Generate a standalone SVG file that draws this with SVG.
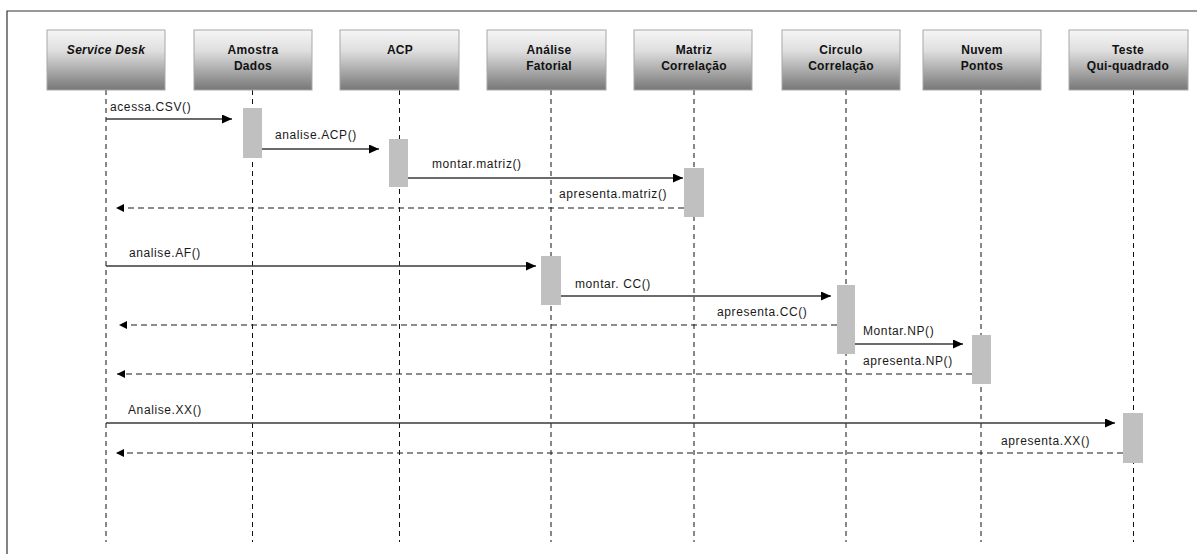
<svg xmlns="http://www.w3.org/2000/svg" width="1197" height="554" viewBox="0 0 1197 554">
<style>
.box{fill:url(#g);stroke:#a8a8a8;stroke-width:1}
.bt{font-family:"Liberation Sans",Arial,sans-serif;font-size:12px;font-weight:bold;fill:#111;text-anchor:middle;letter-spacing:0.3px}
.life{stroke:#111;stroke-width:1;stroke-dasharray:5 4;fill:none}
.bar{fill:#c0c0c0}
.call{stroke:#3a3a3a;stroke-width:1.5;fill:none;marker-end:url(#ah)}
.ret{stroke:#1a1a1a;stroke-width:1.2;stroke-dasharray:6 4;fill:none;marker-end:url(#ahr)}
.lbl{font-family:"Liberation Sans",Arial,sans-serif;font-size:12px;fill:#1a1a1a;letter-spacing:0.6px}
</style>
<defs>
<linearGradient id="g" x1="0" y1="0" x2="0" y2="1">
<stop offset="0" stop-color="#f6f6f6"/>
<stop offset="0.35" stop-color="#dedede"/>
<stop offset="1" stop-color="#777"/>
</linearGradient>
<marker id="ah" markerUnits="userSpaceOnUse" markerWidth="11" markerHeight="10" refX="10" refY="4.5" orient="auto">
<path d="M0,0 L10,4.5 L0,9 z" fill="#000"/>
</marker>
<marker id="ahr" markerUnits="userSpaceOnUse" markerWidth="9" markerHeight="9" refX="8" refY="4" orient="auto">
<path d="M0,0 L8,4 L0,8 z" fill="#000"/>
</marker>
</defs>
<rect width="1197" height="554" fill="#fff"/>
<path d="M7,554 V11 H1197" fill="none" stroke="#333" stroke-width="1.2"/>

<g id="lifelines">
<line class="life" x1="106" y1="90" x2="106" y2="542"/>
<line class="life" x1="252.5" y1="90" x2="252.5" y2="542"/>
<line class="life" x1="399.5" y1="90" x2="399.5" y2="542"/>
<line class="life" x1="551" y1="90" x2="551" y2="542"/>
<line class="life" x1="694" y1="90" x2="694" y2="542"/>
<line class="life" x1="846" y1="90" x2="846" y2="542"/>
<line class="life" x1="981" y1="90" x2="981" y2="542"/>
<line class="life" x1="1133.5" y1="90" x2="1133.5" y2="542"/>
</g>

<g id="n_service_desk">
<rect class="box" x="47" y="30" width="118" height="60"/>
<text class="bt" x="106" y="54" font-style="italic">Service Desk</text>
</g>
<g id="n_amostra">
<rect class="box" x="194" y="30" width="118" height="60"/>
<text class="bt" x="253" y="54">Amostra</text>
<text class="bt" x="253" y="70">Dados</text>
</g>
<g id="n_acp">
<rect class="box" x="340" y="30" width="119" height="60"/>
<text class="bt" x="400" y="54">ACP</text>
</g>
<g id="n_analise">
<rect class="box" x="487" y="30" width="119" height="60"/>
<text class="bt" x="549" y="54">Análise</text>
<text class="bt" x="549" y="70">Fatorial</text>
</g>
<g id="n_matriz">
<rect class="box" x="634" y="30" width="118" height="60"/>
<text class="bt" x="694" y="54">Matriz</text>
<text class="bt" x="694" y="70">Correlação</text>
</g>
<g id="n_circulo">
<rect class="box" x="782" y="30" width="118" height="60"/>
<text class="bt" x="841" y="54">Circulo</text>
<text class="bt" x="841" y="70">Correlação</text>
</g>
<g id="n_nuvem">
<rect class="box" x="923" y="30" width="118" height="60"/>
<text class="bt" x="982" y="54">Nuvem</text>
<text class="bt" x="982" y="70">Pontos</text>
</g>
<g id="n_teste">
<rect class="box" x="1069" y="30" width="119" height="60"/>
<text class="bt" x="1128" y="54">Teste</text>
<text class="bt" x="1128" y="70">Qui-quadrado</text>
</g>

<g id="activations">
<rect class="bar" x="243" y="108" width="19" height="50"/>
<rect class="bar" x="389" y="139" width="19" height="48"/>
<rect class="bar" x="684" y="168" width="20" height="49"/>
<rect class="bar" x="541" y="256" width="20" height="49"/>
<rect class="bar" x="837" y="285" width="18" height="69"/>
<rect class="bar" x="972" y="335" width="19" height="49"/>
<rect class="bar" x="1123" y="413" width="20" height="50"/>
</g>

<g id="connectors">
<line class="call" x1="106" y1="119" x2="232" y2="119"/>
<text class="lbl" x="110" y="111">acessa.CSV()</text>
<line class="call" x1="262" y1="149" x2="379" y2="149"/>
<text class="lbl" x="275" y="139">analise.ACP()</text>
<line class="call" x1="408" y1="178" x2="683" y2="178"/>
<text class="lbl" x="432" y="168">montar.matriz()</text>
<line class="ret" x1="684" y1="208" x2="116" y2="208"/>
<text class="lbl" x="559" y="198">apresenta.matriz()</text>
<line class="call" x1="106" y1="266" x2="536" y2="266"/>
<text class="lbl" x="129" y="257">analise.AF()</text>
<line class="call" x1="561" y1="296" x2="831" y2="296"/>
<text class="lbl" x="575" y="288">montar. CC()</text>
<line class="ret" x1="837" y1="325" x2="119" y2="325"/>
<text class="lbl" x="717" y="316">apresenta.CC()</text>
<line class="call" x1="855" y1="344" x2="963" y2="344"/>
<text class="lbl" x="863" y="335">Montar.NP()</text>
<line class="ret" x1="972" y1="374" x2="117" y2="374"/>
<text class="lbl" x="863" y="365">apresenta.NP()</text>
<line class="call" x1="106" y1="423" x2="1115" y2="423"/>
<text class="lbl" x="128" y="414">Analise.XX()</text>
<line class="ret" x1="1123" y1="453" x2="116" y2="453"/>
<text class="lbl" x="1001" y="445">apresenta.XX()</text>
</g>
</svg>
